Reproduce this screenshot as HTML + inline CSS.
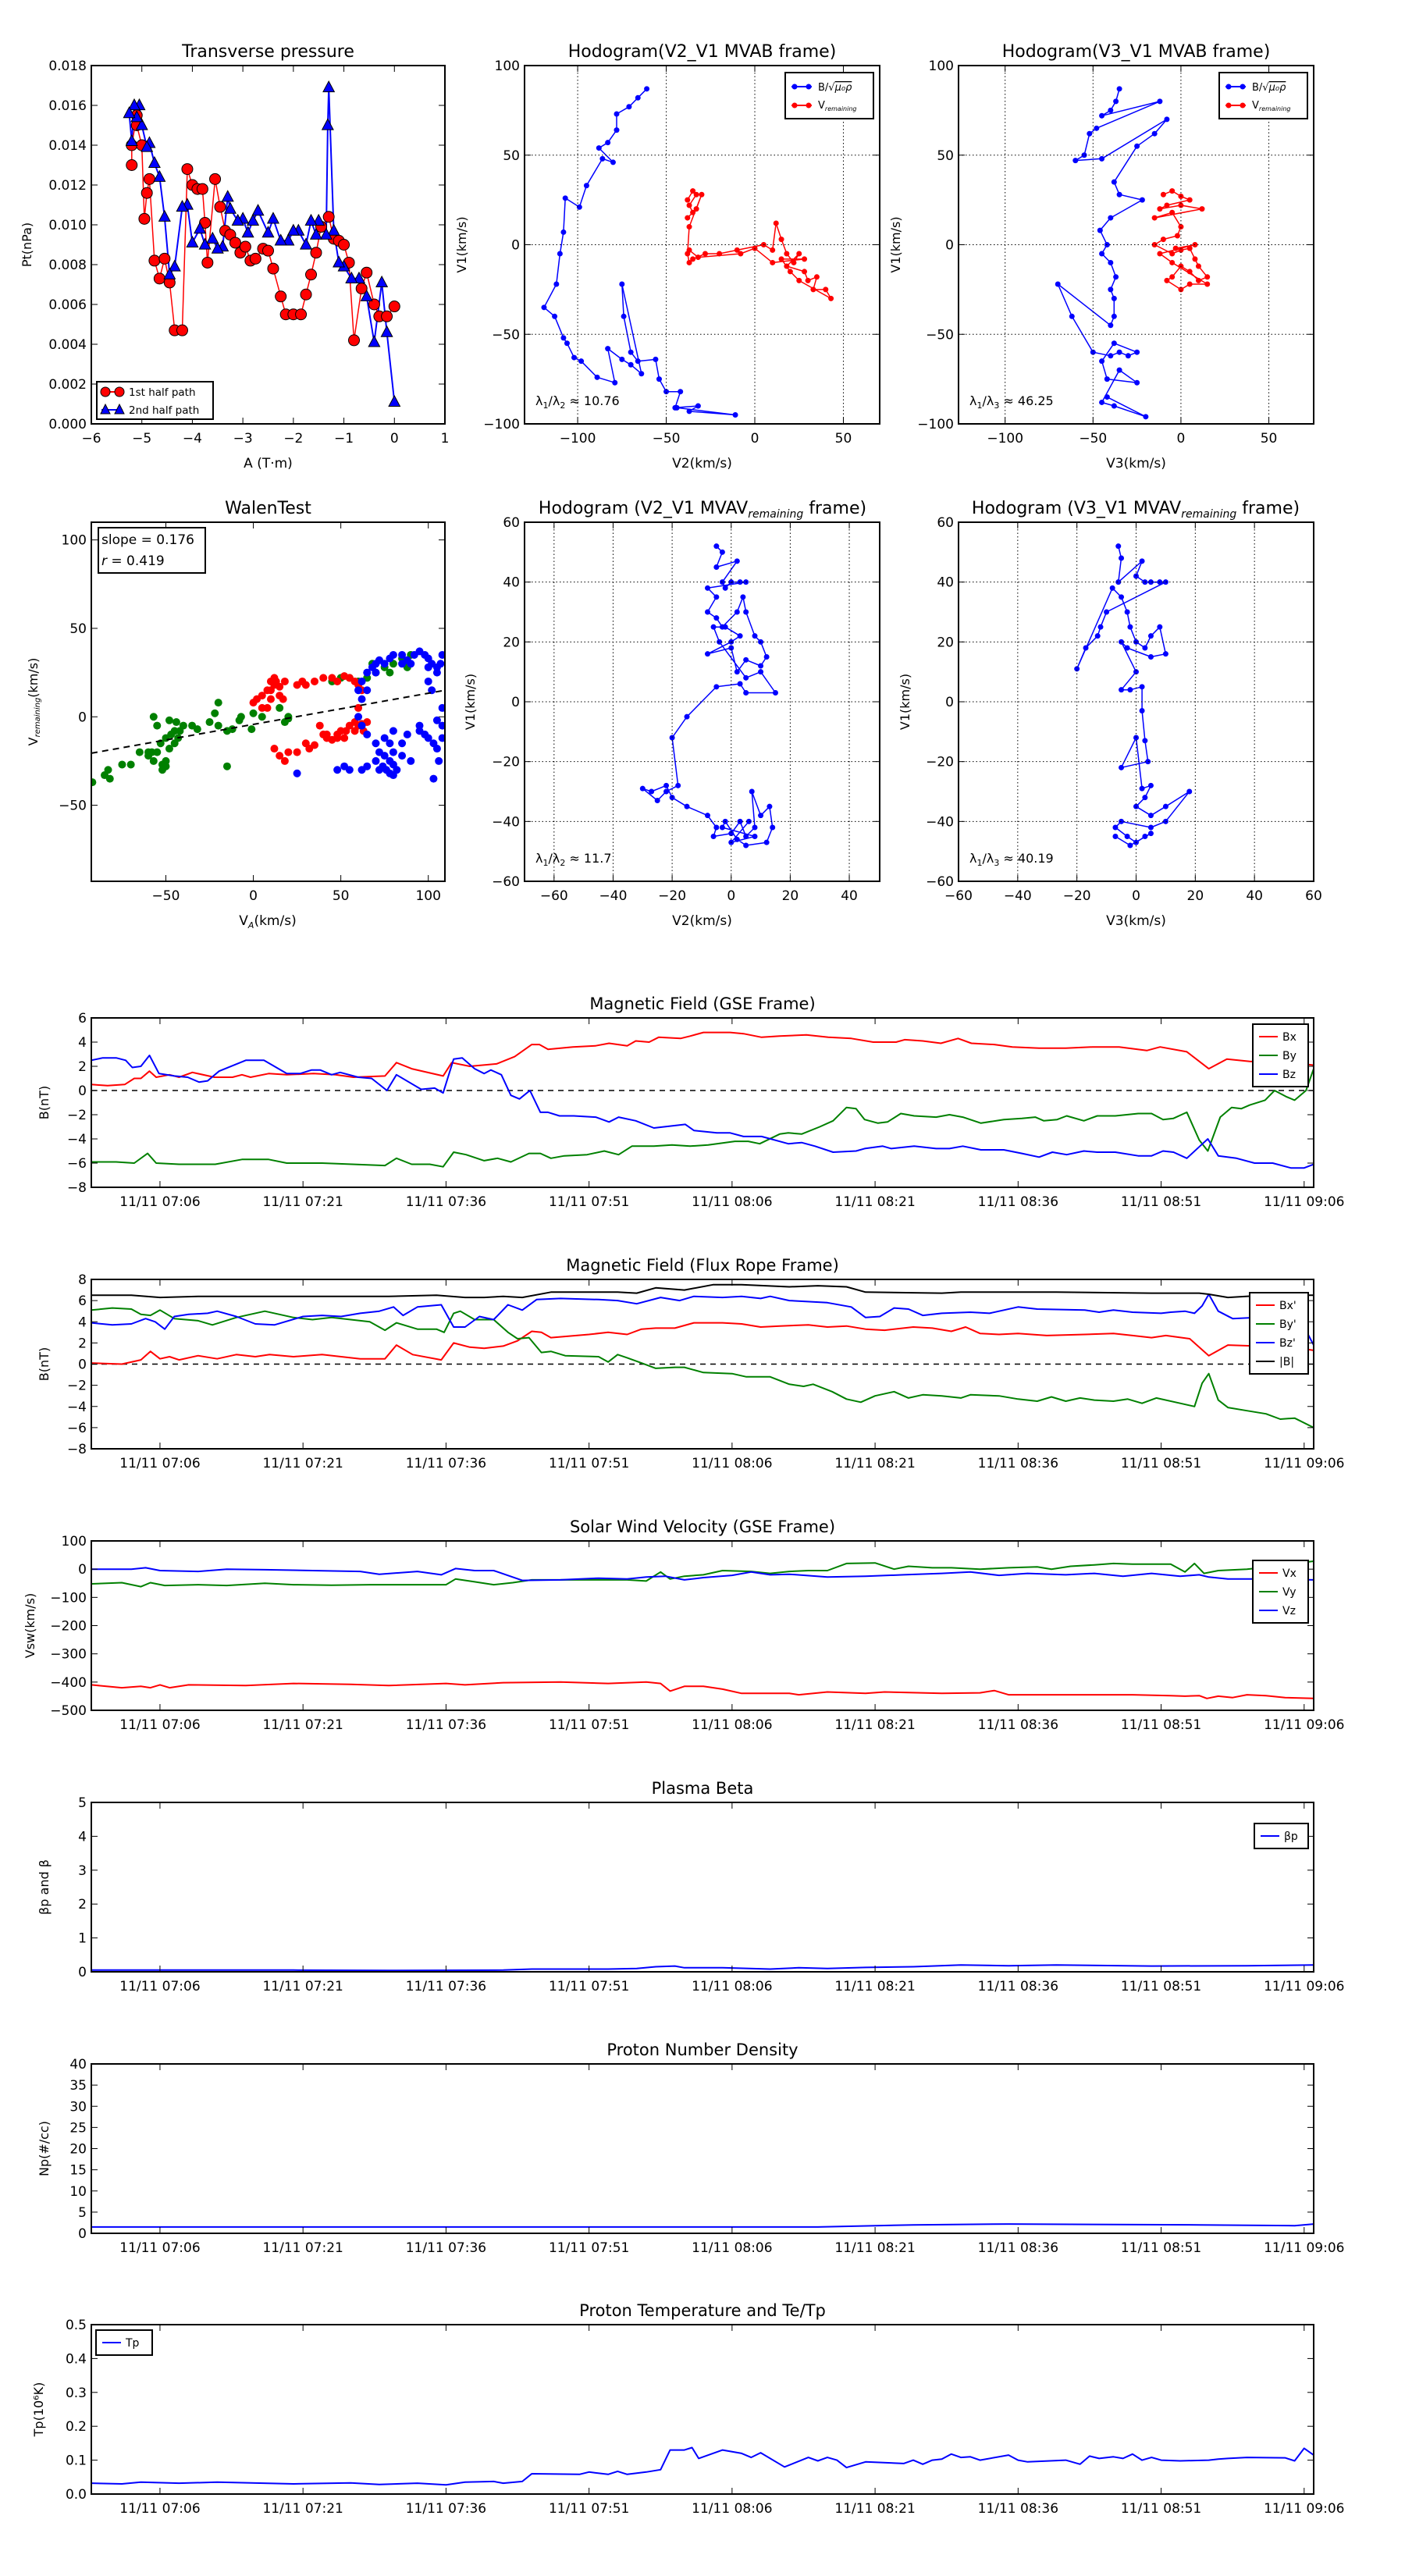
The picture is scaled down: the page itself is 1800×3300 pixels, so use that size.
<!DOCTYPE html>
<html><head><meta charset="utf-8"><style>
html,body{margin:0;padding:0;background:#fff;}
svg{display:block;font-family:"DejaVu Sans","Liberation Sans",sans-serif;}
</style></head><body>
<svg id="fig" width="1800" height="3300" viewBox="0 0 1800 3300" xmlns="http://www.w3.org/2000/svg">
<rect x="0" y="0" width="1800" height="3300" fill="#fff"/>
</svg>
<script>
// ===== DATA =====
// Transverse pressure
const tp1A=[-5.2,-5.2,-5.1,-5.1,-5.0,-4.95,-4.9,-4.85,-4.75,-4.65,-4.55,-4.45,-4.35,-4.2,-4.1,-4.0,-3.9,-3.8,-3.75,-3.7,-3.55,-3.45,-3.35,-3.25,-3.15,-3.05,-2.95,-2.85,-2.75,-2.6,-2.5,-2.4,-2.25,-2.15,-2.0,-1.85,-1.75,-1.65,-1.55,-1.45,-1.3,-1.2,-1.1,-1.0,-0.9,-0.8,-0.65,-0.55,-0.4,-0.3,-0.15,0];
const tp1P=[0.013,0.014,0.0155,0.015,0.014,0.0103,0.0116,0.0123,0.0082,0.0073,0.0083,0.0071,0.0047,0.0047,0.0128,0.012,0.0118,0.0118,0.0101,0.0081,0.0123,0.0109,0.0097,0.0095,0.0091,0.0086,0.0089,0.0082,0.0083,0.0088,0.0087,0.0078,0.0064,0.0055,0.0055,0.0055,0.0065,0.0075,0.0086,0.0099,0.0104,0.0093,0.0092,0.009,0.0081,0.0042,0.0068,0.0076,0.006,0.0054,0.0054,0.0059];
const tp2A=[0,-0.15,-0.25,-0.4,-0.55,-0.7,-0.85,-1.0,-1.1,-1.2,-1.3,-1.32,-1.35,-1.5,-1.55,-1.65,-1.75,-1.9,-2.0,-2.1,-2.25,-2.4,-2.5,-2.7,-2.8,-2.9,-3.0,-3.1,-3.25,-3.3,-3.4,-3.5,-3.6,-3.75,-3.85,-4.0,-4.1,-4.2,-4.35,-4.45,-4.55,-4.65,-4.75,-4.85,-4.9,-5.0,-5.05,-5.1,-5.15,-5.2,-5.25];
const tp2P=[0.0011,0.0046,0.0071,0.0041,0.0064,0.0073,0.0073,0.0079,0.0081,0.0097,0.0169,0.015,0.0095,0.0102,0.0095,0.0102,0.009,0.0097,0.0097,0.0092,0.0092,0.0103,0.0096,0.0107,0.0102,0.0096,0.0103,0.0102,0.0108,0.0114,0.0089,0.0088,0.0093,0.009,0.0098,0.0091,0.011,0.0109,0.0079,0.0075,0.0104,0.0124,0.0131,0.0141,0.0139,0.015,0.016,0.0154,0.016,0.0142,0.0156];
// Hodogram V2-V1 MVAB
const h1Bx=[-61,-66,-71,-78,-78,-83,-88,-80,-86,-95,-99,-107,-108,-110,-112,-119,-113,-108,-106,-102,-98,-89,-79,-83,-75,-70,-64,-75,-74,-70,-66,-56,-54,-50,-42,-45,-32,-37,-11,-44];
const h1By=[87,82,77,73,64,57,54,46,48,33,21,26,7,-5,-22,-35,-40,-52,-55,-63,-65,-74,-77,-58,-64,-67,-72,-22,-40,-60,-65,-64,-75,-82,-82,-91,-90,-93,-95,-91];
const h1Vx=[-38,-35,-33,-37,-35,-38,-33,-30,-37,-38,-37,-35,-28,-20,-10,5,10,12,15,18,22,25,18,28,30,35,33,40,43,25,20,15,28,10,0,-8,-32,-37];
const h1Vy=[25,30,28,22,18,15,20,28,10,-5,-10,-8,-5,-5,-3,0,-3,12,3,-5,-10,-5,-12,-15,-20,-18,-25,-25,-30,-20,-15,-8,-8,-10,-2,-5,-7,-3];
// Hodogram V3-V1 MVAB
const h2Bx=[-35,-37,-40,-45,-12,-48,-52,-55,-60,-45,-8,-15,-25,-38,-35,-22,-40,-46,-42,-45,-40,-37,-40,-38,-38,-40,-70,-62,-50,-40,-35,-30,-25,-38,-45,-42,-25,-35,-45,-38,-20,-42];
const h2By=[87,80,75,72,80,65,62,50,47,48,70,62,55,35,28,25,15,8,0,-5,-10,-18,-25,-30,-40,-45,-22,-40,-60,-62,-60,-62,-60,-55,-65,-75,-77,-70,-88,-90,-96,-85];
const h2Vx=[-10,-5,0,5,-8,-12,0,12,-15,-5,0,-2,-10,-15,-5,0,5,8,10,15,10,5,0,-5,-8,0,5,15,-5,-12,8,-3];
const h2Vy=[28,30,27,25,22,20,22,20,15,18,10,5,3,0,-5,-3,-2,-8,-12,-18,-20,-15,-12,-18,-20,-25,-22,-22,-10,-5,0,-2];
// Walen test
const wSlope=0.176, wIntercept=-4.3, wR=0.419;
const wGx=[-92,-85,-83,-82,-75,-70,-65,-60,-58,-55,-57,-52,-50,-52,-48,-47,-45,-42,-40,-44,-48,-55,-57,-50,-45,-43,-35,-32,-20,-22,-25,-20,-15,-12,-8,-7,-15,0,5,15,18,20,-50,-60,-53,45,50,55,80,85,90,75,70,65,60,68,88,78,20,-1];
const wGy=[-37,-33,-30,-35,-27,-27,-20,-22,-20,-20,-25,-27,-28,-30,-18,-10,-8,-8,-5,-3,-2,-5,0,-12,-15,-12,-5,-7,8,2,-3,-5,-8,-7,-2,0,-28,2,0,5,-3,-1,-25,-20,-15,20,22,22,30,33,35,28,25,22,20,30,28,25,0,-7];
const wRx=[0,2,5,8,10,12,13,15,18,10,8,25,28,30,35,40,45,48,52,55,58,60,62,60,30,32,35,25,20,18,15,12,40,42,45,48,50,52,55,58,60,62,65,63,58,53,48,42,38,10,12,5,15,17];
const wRy=[8,10,12,15,15,18,20,17,20,10,5,18,20,18,20,22,22,20,23,22,20,18,15,5,-15,-18,-16,-20,-20,-25,-22,-18,-10,-12,-13,-10,-8,-12,-5,-3,-5,-4,-3,-8,-8,-8,-12,-10,-5,20,22,5,12,10];
const wBx=[60,62,65,68,70,72,75,78,80,85,88,92,95,98,100,102,105,107,108,105,100,90,85,70,65,62,60,62,65,70,72,75,78,80,76,78,80,82,74,70,75,78,80,85,88,95,98,100,103,105,108,108,105,103,55,62,52,48,65,72,25,80,85,90,95,108,106,100,102];
const wBy=[15,20,25,28,30,32,30,33,35,35,32,35,37,35,33,30,28,30,35,25,28,30,30,25,15,10,0,-5,-10,-15,-20,-22,-25,-27,-30,-32,-33,-30,-28,-25,-12,-15,-20,-15,-10,-5,-10,-12,-15,-18,-5,5,-2,-35,-30,-30,-28,-30,-28,-30,-32,-8,-22,-25,-8,-12,-25,20,15];
// Hodogram MVAV
const h3x=[-5,-3,-5,2,-3,-2,0,3,5,-8,-5,-8,-5,-3,2,4,5,8,10,12,10,5,2,0,-8,0,3,-2,-6,-4,5,10,15,5,3,-5,-15,-20,-18,-22,-25,-30,-27,-22,-20,-15,-8,-5,-6,0,3,5,8,7,10,13,14,12,5,2,-2,-3,8,0,6];
const h3y=[52,50,45,47,40,38,40,40,40,38,35,30,28,25,30,35,30,22,20,15,12,14,10,18,16,20,22,25,25,20,8,10,3,3,6,5,-5,-12,-28,-30,-33,-29,-30,-28,-32,-35,-38,-42,-45,-44,-40,-45,-42,-30,-38,-35,-42,-47,-48,-46,-40,-42,-45,-47,-40];
const h4x=[-6,-5,-6,2,0,3,5,8,10,-10,-12,-13,-17,-20,-8,-5,-3,-2,0,3,5,8,10,5,-3,-5,0,-5,-2,2,2,3,4,-5,0,2,5,3,0,5,10,18,10,5,-5,-7,-3,0,3,5,-2,-7];
const h4y=[52,48,40,47,42,40,40,40,40,30,25,22,18,11,38,35,30,25,20,18,22,25,16,15,18,20,10,4,4,5,-3,-13,-20,-22,-12,-29,-28,-32,-35,-38,-35,-30,-40,-42,-40,-42,-45,-47,-45,-44,-48,-45];
// Time series (minutes after 07:00)
const timeTicks=[6,21,36,51,66,81,96,111,126];
const timeTickLabels=["11/11 07:06","11/11 07:21","11/11 07:36","11/11 07:51","11/11 08:06","11/11 08:21","11/11 08:36","11/11 08:51","11/11 09:06"];
const gseBxT=[-1.2,0.5,2.3,3.3,4,4.9,5.6,7,8,9.4,11.7,13.6,14.6,15.5,17.4,19.3,22.1,24.4,26.3,29.6,30.8,32.4,35.7,36.6,38.5,41.3,43.2,45,45.8,46.7,49.3,51.7,53.1,55,55.9,57.3,58.3,60.6,61.6,63,65.8,67.2,69.1,71,73.8,76.1,78.5,80.8,83.2,84.1,86,87.9,89.7,91.1,93.5,95.4,98.2,101,103.8,106.6,109.5,110.9,113.7,116,117.9,120.3,124.5,127];
const gseBxV=[0.5,0.4,0.5,1.0,1.0,1.6,1.1,1.3,1.1,1.5,1.1,1.1,1.3,1.1,1.4,1.3,1.4,1.3,1.1,1.2,2.3,1.8,1.2,2.3,2.0,2.2,2.8,3.8,3.8,3.4,3.6,3.7,3.9,3.7,4.1,4.0,4.4,4.3,4.5,4.8,4.8,4.7,4.4,4.5,4.6,4.4,4.3,4.0,4.0,4.2,4.1,3.9,4.3,3.9,3.8,3.6,3.5,3.5,3.6,3.6,3.3,3.6,3.2,1.8,2.6,2.4,2.3,2.1];
const gseByT=[-1.2,1.4,3.3,4.7,5.6,8.0,11.8,14.6,17.4,19.3,23.0,29.6,30.8,32.4,34.3,35.7,36.8,38.1,40.0,41.4,42.8,44.7,45.9,47.0,48.4,50.8,52.6,54.1,55.5,57.8,59.7,61.6,63.5,66.3,67.7,68.9,71.0,71.9,73.3,75.2,76.6,78.0,79.0,79.9,81.3,82.3,83.7,85.1,87.4,88.8,90.2,92.1,94.5,96.4,97.8,98.7,100.1,101.1,102.9,104.3,106.2,108.6,110.0,111.2,112.3,113.7,115.0,115.9,117.2,118.4,119.4,120.3,121.9,122.9,124.1,125.0,126.2,127.0];
const gseByV=[-5.9,-5.9,-6.0,-5.2,-6.0,-6.1,-6.1,-5.7,-5.7,-6.0,-6.0,-6.2,-5.6,-6.1,-6.1,-6.3,-5.1,-5.3,-5.8,-5.6,-5.9,-5.2,-5.2,-5.6,-5.4,-5.3,-5.0,-5.3,-4.6,-4.6,-4.5,-4.6,-4.5,-4.2,-4.2,-4.4,-3.6,-3.5,-3.6,-3.0,-2.5,-1.4,-1.5,-2.4,-2.7,-2.6,-1.9,-2.1,-2.2,-2.0,-2.2,-2.7,-2.4,-2.3,-2.2,-2.5,-2.4,-2.1,-2.5,-2.1,-2.1,-1.9,-1.9,-2.4,-2.3,-1.8,-4.1,-5.0,-2.2,-1.4,-1.5,-1.2,-0.8,0.0,-0.5,-0.8,0.0,1.8];
const gseBzT=[-1.2,0,1.4,2.4,3.1,4.0,4.9,5.9,7.5,8.9,10.1,11.0,12.2,15.0,16.9,19.3,20.7,21.9,22.8,24.0,24.9,26.8,28.2,29.8,30.8,33.4,34.8,35.7,36.8,37.7,39.0,40.0,40.7,41.8,42.8,43.7,44.8,45.9,46.7,47.9,49.4,51.7,53.1,54.1,55.9,57.8,61.1,62.0,64.4,65.8,67.2,69.1,71.9,73.3,74.7,76.6,79.0,79.9,81.8,82.7,85.1,87.4,88.8,90.2,92.1,94.5,96.4,98.2,99.6,101.1,102.9,104.3,106.2,108.6,110.0,111.2,112.3,113.7,115.2,115.9,117.0,118.9,120.8,122.7,124.6,126.0,127.0];
const gseBzV=[2.5,2.7,2.7,2.5,1.9,2.0,2.9,1.4,1.2,1.1,0.7,0.8,1.6,2.5,2.5,1.4,1.4,1.7,1.7,1.3,1.5,1.1,1.0,0.0,1.3,0.1,0.2,-0.2,2.6,2.7,1.8,1.4,1.7,1.3,-0.4,-0.7,0.0,-1.8,-1.8,-2.1,-2.1,-2.2,-2.6,-2.2,-2.5,-3.1,-2.8,-3.3,-3.5,-3.5,-3.8,-3.8,-4.4,-4.3,-4.6,-5.1,-5.0,-4.8,-4.6,-4.8,-4.6,-4.8,-4.8,-4.6,-4.9,-4.9,-5.2,-5.5,-5.1,-5.3,-5.0,-5.1,-5.1,-5.4,-5.4,-5.0,-5.1,-5.6,-4.5,-4.0,-5.4,-5.6,-6.0,-6.0,-6.4,-6.4,-6.1];
const frBmT=[-1.2,3,6,10,20,30,35,38,40,42,44,47,54,56,58,61,64,67,72,75,78,80,88,90,100,110,115,116,118,122,127];
const frBmV=[6.5,6.5,6.3,6.4,6.4,6.4,6.5,6.3,6.3,6.4,6.3,6.8,6.8,6.7,7.2,7.0,7.5,7.5,7.3,7.4,7.3,6.8,6.7,6.8,6.8,6.7,6.7,6.6,6.3,6.5,6.5];
const frBxT=[-1.2,2,4,5,6,7,8,10,12,14,16,17.5,20,23,25,27,29.6,30.8,32.5,35.5,36.8,38.5,40,42,43.5,45,46,47,51,53,55,56.5,58,60,62,65,67,69,71,74,76,78,80,82,85,87,89,90.5,92,94,96,99,103,106,108,110,111.5,114,116,118,121,124,127];
const frBxV=[0.1,0,0.4,1.2,0.5,0.7,0.4,0.8,0.5,0.9,0.7,0.9,0.7,0.9,0.7,0.5,0.5,1.8,0.9,0.4,2.0,1.6,1.5,1.7,2.2,3.1,3.0,2.5,2.8,3.0,2.8,3.3,3.4,3.4,3.9,3.9,3.8,3.5,3.6,3.7,3.5,3.6,3.3,3.2,3.5,3.4,3.1,3.5,2.9,2.8,2.9,2.7,2.8,2.9,2.7,2.5,2.7,2.4,0.8,1.8,1.7,1.7,1.3];
const frByT=[-1.2,1,3,4,5,6,7.5,10,11.5,14,17,20,22,24,26,28,29.6,30.8,33,35,35.8,36.8,37.5,39,41,42.5,43.5,44.7,46,47,48.5,52,53,54,55,56.5,58,60,61,63,66,67.5,70,72,73.5,74.5,76.5,78,79.5,81,83,84.5,86,88,90,91,94,96,98,99.5,101,102.5,104,106,107.5,109,110.5,113,114.5,115.3,116,117,118,120,122,123.5,125,127];
const frByV=[5.1,5.3,5.2,4.7,4.6,5.1,4.3,4.1,3.7,4.4,5.0,4.4,4.2,4.4,4.2,4.0,3.2,3.9,3.3,3.3,3.0,4.8,5.0,4.2,4.2,3.0,2.4,2.5,1.1,1.2,0.8,0.7,0.2,0.9,0.6,0.1,-0.4,-0.3,-0.3,-0.8,-0.9,-1.2,-1.2,-1.9,-2.1,-1.9,-2.6,-3.3,-3.6,-3.0,-2.6,-3.2,-2.9,-3.0,-3.2,-2.9,-3.0,-3.3,-3.5,-3.1,-3.5,-3.2,-3.4,-3.5,-3.3,-3.7,-3.2,-3.7,-4.0,-1.8,-0.9,-3.4,-4.1,-4.4,-4.7,-5.2,-5.1,-6.0];
const frBzT=[-1.2,1,3,4.5,5.5,6.5,7.5,9,11,12,14,16,18,21,23,25,27,29,30.5,31.5,33,35.5,36.8,38,39.5,41,42.5,44,45.5,48,52,54,56,58.5,60.5,62,65,67,69,70,72,76,78.5,80,81.5,83,84.5,86,88,91,93,96,98,103,104.5,106,108,111,112,113.5,114.5,115.3,116,117,118.5,121,123,124.5,126,127];
const frBzV=[3.9,3.7,3.8,4.3,4.0,3.3,4.5,4.7,4.8,5.0,4.5,3.8,3.7,4.5,4.6,4.5,4.8,5.0,5.4,4.6,5.4,5.6,3.5,3.5,4.5,4.2,5.6,5.1,6.1,6.2,6.1,6.0,5.7,6.3,6.0,6.4,6.3,6.4,6.2,6.4,6.0,5.8,5.4,4.4,4.5,5.3,5.2,4.6,4.8,4.9,4.8,5.4,5.2,5.1,4.9,5.1,4.9,4.8,4.9,5.0,4.8,5.5,6.6,5.0,4.3,4.4,4.1,4.5,3.5,1.8];
const vxT=[-1.2,2,4,5,6,7,9,15,20,26,30,36,38,42,48,53,57,58.5,59.5,61,63,65,67,72,73,76,80,82,88,92,93.5,95,100,108,112,113.5,115,115.8,117,118.5,120,122,124,127];
const vxV=[-410,-420,-415,-420,-410,-420,-410,-412,-405,-408,-412,-405,-410,-402,-400,-405,-400,-405,-432,-415,-415,-425,-440,-440,-445,-435,-440,-435,-440,-438,-430,-445,-445,-445,-448,-450,-448,-458,-450,-455,-445,-448,-455,-458];
const vyT=[-1.2,2,4,5,6.5,10,13,17,20,24,28,36,37,39,41,43,45,50,55,57,58.5,59.5,61,63,65,68,70,72,74,76,78,81,83,84.5,87,89,92,95,98,99.5,101.5,104,106,108,112,113.5,114.5,115.5,117,120,123,125,127];
const vyV=[-52,-48,-62,-48,-58,-55,-58,-50,-55,-57,-55,-55,-35,-45,-55,-48,-38,-38,-38,-42,-10,-35,-25,-20,-5,-8,-15,-8,-5,-5,20,22,0,10,5,5,0,5,8,0,10,15,20,18,18,-10,20,-15,-5,0,10,20,28];
const vzT=[-1.2,3,4.5,6,10,13,17,22,27,29,33,35.5,37,39,41,44,48,52,55,57,59,61,63,66,68,70,72,76,80,84,88,91,94,97,101,104,107,110,113,115,116,118,122,127];
const vzV=[0,0,5,-5,-8,0,-2,-5,-8,-18,-8,-20,2,-5,-5,-40,-38,-32,-35,-28,-25,-38,-30,-22,-10,-20,-18,-28,-25,-20,-15,-10,-22,-15,-20,-15,-25,-15,-25,-20,-28,-35,-35,-38];
const betaT=[-1.2,10,20,30,42,45,53,56,58,60,61,65,70,73,76,80,85,90,95,100,110,120,127];
const betaV=[0.05,0.05,0.05,0.04,0.05,0.08,0.08,0.1,0.15,0.17,0.12,0.12,0.08,0.12,0.1,0.13,0.15,0.2,0.18,0.2,0.17,0.18,0.2];
const npT=[-1.2,20,40,60,75,85,95,115,125,127];
const npV=[1.5,1.5,1.5,1.5,1.5,2.0,2.2,2.0,1.8,2.2];
const tpT=[-1.2,2,4,8,12,20,26,29,33,36,38,41,42,44,45,50,51,53,54,55,57,58.5,59.5,61,61.8,62.5,65,67,68,69,71.5,74,75,76,77,78,80,84,85,86,87,88,89,90,91,92,95,96,97,101,102.5,103.5,104.5,106,107,108,109,110,111,113,116,117,118,120,124,125,126,127];
const tpV=[0.032,0.03,0.035,0.032,0.035,0.03,0.033,0.028,0.032,0.027,0.035,0.037,0.032,0.037,0.06,0.058,0.065,0.058,0.067,0.058,0.065,0.072,0.13,0.13,0.137,0.105,0.13,0.12,0.108,0.122,0.08,0.108,0.098,0.108,0.1,0.078,0.095,0.09,0.1,0.088,0.1,0.103,0.118,0.108,0.11,0.1,0.115,0.1,0.095,0.1,0.088,0.112,0.105,0.11,0.105,0.118,0.1,0.108,0.1,0.098,0.1,0.103,0.105,0.108,0.107,0.098,0.135,0.115];

// ===== DRAWING =====
const NS='http://www.w3.org/2000/svg';
const svg=document.getElementById('fig');
let clipId=0;
function mk(tag,attrs,parent,nm){
  const e=document.createElementNS(NS,tag);
  for(const k in attrs)e.setAttribute(k,attrs[k]);
  
  
  (parent||svg).appendChild(e);
  return e;
}
function txt(s,x,y,size,anchor,parent,nm,extra){
  const a={x:x,y:y,'font-size':size,'text-anchor':anchor||'middle',fill:'#000'};
  if(extra)for(const k in extra)a[k]=extra[k];
  const t=mk('text',a,parent,nm);
  t.textContent=s;return t;
}
function axes(o){
  const g=mk('g',{},svg,o.name);
  const sx=v=>o.x0+(v-o.xmin)/(o.xmax-o.xmin)*(o.x1-o.x0);
  const sy=v=>o.y1-(v-o.ymin)/(o.ymax-o.ymin)*(o.y1-o.y0);
  const cid='clip'+(clipId++);
  const cp=mk('clipPath',{id:cid},g,'clip');
  mk('rect',{x:o.x0,y:o.y0,width:o.x1-o.x0,height:o.y1-o.y0},cp,'clip-rect');
  const plot=mk('g',{'clip-path':'url(#'+cid+')'},g,o.name+'-plot');
  const fs=o.fs||17;
  if(o.grid){
    o.xticks.forEach(v=>mk('line',{x1:sx(v),x2:sx(v),y1:o.y0,y2:o.y1,stroke:'#000','stroke-width':1,'stroke-dasharray':'1.5,3'},g,'x-grid-line'));
    o.yticks.forEach(v=>mk('line',{y1:sy(v),y2:sy(v),x1:o.x0,x2:o.x1,stroke:'#000','stroke-width':1,'stroke-dasharray':'1.5,3'},g,'y-grid-line'));
  }
  o.xticks.forEach((v,i)=>{
    const x=sx(v);
    mk('line',{x1:x,x2:x,y1:o.y1,y2:o.y1-8,stroke:'#000','stroke-width':1},g,'x-tick');
    mk('line',{x1:x,x2:x,y1:o.y0,y2:o.y0+8,stroke:'#000','stroke-width':1},g,'x-tick-top');
    txt(o.xlabels[i],x,o.y1+24,fs,'middle',g,'x-tick-label');
  });
  o.yticks.forEach((v,i)=>{
    const y=sy(v);
    mk('line',{x1:o.x0,x2:o.x0+8,y1:y,y2:y,stroke:'#000','stroke-width':1},g,'y-tick');
    mk('line',{x1:o.x1,x2:o.x1-8,y1:y,y2:y,stroke:'#000','stroke-width':1},g,'y-tick-right');
    txt(o.ylabels[i],o.x0-6,y+6,fs,'end',g,'y-tick-label');
  });
  if(o.title)txt(o.title,(o.x0+o.x1)/2,o.y0-11,o.tfs||22,'middle',g,'chart-title');
  if(o.xtitle)txt(o.xtitle,(o.x0+o.x1)/2,o.y1+56,17,'middle',g,'x-axis-title');
  if(o.ytitle){const yc=(o.y0+o.y1)/2;txt(o.ytitle,o.ytx,yc,16,'middle',g,'y-axis-title',{transform:'rotate(-90 '+o.ytx+' '+yc+')'});}
  return {g,sx,sy,plot,o,finish(){mk('rect',{x:o.x0,y:o.y0,width:o.x1-o.x0,height:o.y1-o.y0,fill:'none',stroke:'#000','stroke-width':2},g,'axes-frame');}};
}
function line(ax,xs,ys,color,w,nm,dash){
  const d=xs.map((x,i)=>(i?'L':'M')+ax.sx(x).toFixed(1)+','+ax.sy(ys[i]).toFixed(1)).join('');
  const a={d:d,fill:'none',stroke:color,'stroke-width':w,'stroke-linejoin':'round'};
  if(dash)a['stroke-dasharray']=dash;
  return mk('path',a,ax.plot,nm);
}
function dots(ax,xs,ys,color,r,nm,stroke){
  xs.forEach((x,i)=>mk('circle',{cx:ax.sx(x),cy:ax.sy(ys[i]),r:r,fill:color,stroke:stroke||'none','stroke-width':1},ax.plot,nm));
}
function tris(ax,xs,ys,color,s,nm){
  xs.forEach((x,i)=>{const cx=ax.sx(x),cy=ax.sy(ys[i]);
    mk('polygon',{points:`${cx},${cy-s} ${cx-s*0.9},${cy+s*0.7} ${cx+s*0.9},${cy+s*0.7}`,fill:color,stroke:'#000','stroke-width':1},ax.plot,nm);});
}
function range(a,b,s){const r=[];for(let v=a;v<=b+1e-9;v+=s)r.push(Math.round(v*1e6)/1e6);return r;}
function legendBox(x,y,w,h,nm){const g=mk('g',{},svg,nm);mk('rect',{x:x,y:y,width:w,height:h,fill:'#fff',stroke:'#000','stroke-width':2},g,'legend-frame');return g;}

// --- Transverse pressure ---
(function(){
  const ax=axes({name:'transverse-pressure-chart',x0:117,x1:570,y0:84,y1:543,xmin:-6,xmax:1,ymin:0,ymax:0.018,
    xticks:range(-6,1,1),xlabels:['−6','−5','−4','−3','−2','−1','0','1'],
    yticks:range(0,0.018,0.002),ylabels:['0.000','0.002','0.004','0.006','0.008','0.010','0.012','0.014','0.016','0.018'],
    title:'Transverse pressure',xtitle:'A (T·m)',ytitle:'Pt(nPa)',ytx:40});
  line(ax,tp1A,tp1P,'#f00',1.5,'first-half-line');
  line(ax,tp2A,tp2P,'#00f',2,'second-half-line');
  dots(ax,tp1A,tp1P,'#f00',7,'first-half-marker','#000');
  tris(ax,tp2A,tp2P,'#00f',8,'second-half-marker');
  ax.finish();
  const lg=legendBox(124,489,149,48,'transverse-legend');
  mk('line',{x1:130,x2:157,y1:502,y2:502,stroke:'#f00','stroke-width':2},lg,'legend-line');
  mk('circle',{cx:135,cy:502,r:6,fill:'#f00',stroke:'#000'},lg,'legend-marker');mk('circle',{cx:153,cy:502,r:6,fill:'#f00',stroke:'#000'},lg,'legend-marker');
  txt('1st half path',165,507,13.5,'start',lg,'legend-entry');
  mk('line',{x1:130,x2:157,y1:525,y2:525,stroke:'#00f','stroke-width':2},lg,'legend-line');
  mk('polygon',{points:'135,518 129,530 141,530',fill:'#00f',stroke:'#000'},lg,'legend-marker');mk('polygon',{points:'153,518 147,530 159,530',fill:'#00f',stroke:'#000'},lg,'legend-marker');
  txt('2nd half path',165,530,13.5,'start',lg,'legend-entry');
})();

function hodoLegend(x,nm){
  const lg=legendBox(x,93,113,59,nm);
  mk('line',{x1:x+8,x2:x+34,y1:111,y2:111,stroke:'#00f','stroke-width':2},lg,'legend-line');
  mk('circle',{cx:x+12,cy:111,r:3.5,fill:'#00f'},lg,'legend-marker');mk('circle',{cx:x+30,cy:111,r:3.5,fill:'#00f'},lg,'legend-marker');
  const t1=txt('B/√',x+42,116,13,'start',lg,'legend-entry');
  const ts=mk('tspan',{'font-style':'italic','text-decoration':'overline'},t1,'legend-sub');ts.textContent='μ₀ρ';
  mk('line',{x1:x+8,x2:x+34,y1:135,y2:135,stroke:'#f00','stroke-width':2},lg,'legend-line');
  mk('circle',{cx:x+12,cy:135,r:3.5,fill:'#f00'},lg,'legend-marker');mk('circle',{cx:x+30,cy:135,r:3.5,fill:'#f00'},lg,'legend-marker');
  const t2=txt('V',x+42,139,13,'start',lg,'legend-entry');
  const s2=mk('tspan',{'font-size':8,'font-style':'italic',dy:3},t2,'legend-sub');s2.textContent='remaining';
}
function hodo(cfg){
  const ax=axes(cfg);
  line(ax,cfg.bx,cfg.by,'#00f',1.5,'b-path');
  dots(ax,cfg.bx,cfg.by,'#00f',3.5,'b-point');
  if(cfg.vx){line(ax,cfg.vx,cfg.vy,'#f00',1.5,'v-path');dots(ax,cfg.vx,cfg.vy,'#f00',3.5,'v-point');}
  ax.finish();
  const t=txt('λ',cfg.x0+14,cfg.y1-24,16,'start',ax.g,'eigen-ratio-label');
  const a=mk('tspan',{'font-size':11,dy:4},t,'sub');a.textContent='1';
  const b=mk('tspan',{dy:-4},t,'sub');b.textContent='/λ';
  const c=mk('tspan',{'font-size':11,dy:4},t,'sub');c.textContent=cfg.sub;
  const d=mk('tspan',{dy:-4},t,'sub');d.textContent=' ≈ '+cfg.ratio;
  return ax;
}
hodo({name:'hodogram-v2-v1-mvab',x0:672,x1:1127,y0:84,y1:543,xmin:-130,xmax:70.5,ymin:-100,ymax:100,grid:true,
  xticks:[-100,-50,0,50],xlabels:['−100','−50','0','50'],yticks:[-100,-50,0,50,100],ylabels:['−100','−50','0','50','100'],
  title:'Hodogram(V2_V1 MVAB frame)',xtitle:'V2(km/s)',ytitle:'V1(km/s)',ytx:597,bx:h1Bx,by:h1By,vx:h1Vx,vy:h1Vy,sub:'2',ratio:'10.76'});
hodoLegend(1006,'hodogram1-legend');
hodo({name:'hodogram-v3-v1-mvab',x0:1228,x1:1683,y0:84,y1:543,xmin:-126.5,xmax:75.5,ymin:-100,ymax:100,grid:true,
  xticks:[-100,-50,0,50],xlabels:['−100','−50','0','50'],yticks:[-100,-50,0,50,100],ylabels:['−100','−50','0','50','100'],
  title:'Hodogram(V3_V1 MVAB frame)',xtitle:'V3(km/s)',ytitle:'V1(km/s)',ytx:1153,bx:h2Bx,by:h2By,vx:h2Vx,vy:h2Vy,sub:'3',ratio:'46.25'});
hodoLegend(1562,'hodogram2-legend');

// Walen
(function(){
  const ax=axes({name:'walen-test-chart',x0:117,x1:570,y0:669,y1:1129,xmin:-92.6,xmax:109.5,ymin:-93,ymax:110,
    xticks:[-50,0,50,100],xlabels:['−50','0','50','100'],yticks:[-50,0,50,100],ylabels:['−50','0','50','100'],
    title:'WalenTest',ytx:48});
  dots(ax,wGx,wGy,'#008000',5,'walen-green-point');
  dots(ax,wRx,wRy,'#f00',5,'walen-red-point');
  dots(ax,wBx,wBy,'#00f',5,'walen-blue-point');
  const fx=[ax.o.xmin,ax.o.xmax];
  line(ax,fx,fx.map(x=>wSlope*x+wIntercept),'#000',2,'fit-line','8,6');
  ax.finish();
  const yc=899, t=txt('V',48,yc,16,'middle',ax.g,'y-axis-title',{transform:'rotate(-90 48 '+yc+')'});
  const s=mk('tspan',{'font-size':10,'font-style':'italic',dy:3},t,'sub');s.textContent='remaining';
  const s2=mk('tspan',{dy:-3},t,'sub');s2.textContent='(km/s)';
  const xt=txt('V',343,1185,17,'middle',ax.g,'x-axis-title');
  const xs=mk('tspan',{'font-size':11,'font-style':'italic',dy:4},xt,'sub');xs.textContent='A';
  const xs2=mk('tspan',{dy:-4},xt,'sub');xs2.textContent='(km/s)';
  const lg=legendBox(126,676,137,58,'walen-stats-box');
  txt('slope = '+wSlope,130,697,17,'start',lg,'slope-label');
  const rt=txt('',130,724,17,'start',lg,'r-label');
  const ri=mk('tspan',{'font-style':'italic'},rt,'r-symbol');ri.textContent='r';
  const rv=mk('tspan',{},rt,'r-value');rv.textContent=' = '+wR;
})();
hodo({name:'hodogram-v2-v1-mvav',x0:672,x1:1127,y0:669,y1:1129,xmin:-70,xmax:50.3,ymin:-60,ymax:60,grid:true,
  xticks:[-60,-40,-20,0,20,40],xlabels:['−60','−40','−20','0','20','40'],yticks:[-60,-40,-20,0,20,40,60],ylabels:['−60','−40','−20','0','20','40','60'],
  title:'',xtitle:'V2(km/s)',ytitle:'V1(km/s)',ytx:608,bx:h3x,by:h3y,sub:'2',ratio:'11.7'});
hodo({name:'hodogram-v3-v1-mvav',x0:1228,x1:1683,y0:669,y1:1129,xmin:-60,xmax:60,ymin:-60,ymax:60,grid:true,
  xticks:[-60,-40,-20,0,20,40,60],xlabels:['−60','−40','−20','0','20','40','60'],yticks:[-60,-40,-20,0,20,40,60],ylabels:['−60','−40','−20','0','20','40','60'],
  title:'',xtitle:'V3(km/s)',ytitle:'V1(km/s)',ytx:1165,bx:h4x,by:h4y,sub:'3',ratio:'40.19'});
[[900,'V2'],[1455,'V3']].forEach(([cx,v])=>{
  const t=txt('Hodogram ('+v+'_V1 MVAV',cx,658,22,'middle',svg,'chart-title');
  const s=mk('tspan',{'font-size':14,'font-style':'italic',dy:5},t,'sub');s.textContent='remaining';
  const s2=mk('tspan',{dy:-5},t,'sub');s2.textContent=' frame)';
});

// Time series
const tsTops=[1304,1639,1974,2309,2644,2978];
function ts(i,cfg){
  const y0=tsTops[i];
  const ax=axes(Object.assign({x0:117,x1:1683,y0:y0,y1:y0+217,xmin:-1.2,xmax:127,xticks:timeTicks,xlabels:timeTickLabels,ytx:62,tfs:21},cfg));
  return ax;
}
function tsLegend(x,y,w,entries,nm){
  const lg=legendBox(x,y,w,entries.length*24+8,nm);
  entries.forEach((e,k)=>{const yy=y+16+k*24;
    mk('line',{x1:x+8,x2:x+32,y1:yy,y2:yy,stroke:e[1],'stroke-width':2},lg,'legend-line');
    txt(e[0],x+38,yy+5,14,'start',lg,'legend-entry');});
}
(function(){
  const ax=ts(0,{name:'magnetic-field-gse-chart',ymin:-8,ymax:6,yticks:range(-8,6,2),ylabels:['−8','−6','−4','−2','0','2','4','6'],title:'Magnetic Field (GSE Frame)',ytitle:'B(nT)'});
  line(ax,[-1.2,127],[0,0],'#000',1.5,'zero-line','7,6');
  line(ax,gseBxT,gseBxV,'#f00',2,'bx-line');line(ax,gseByT,gseByV,'#008000',2,'by-line');line(ax,gseBzT,gseBzV,'#00f',2,'bz-line');
  ax.finish();tsLegend(1605,1312,71,[['Bx','#f00'],['By','#008000'],['Bz','#00f']],'gse-legend');
})();
(function(){
  const ax=ts(1,{name:'magnetic-field-flux-rope-chart',ymin:-8,ymax:8,yticks:range(-8,8,2),ylabels:['−8','−6','−4','−2','0','2','4','6','8'],title:'Magnetic Field (Flux Rope Frame)',ytitle:'B(nT)'});
  line(ax,[-1.2,127],[0,0],'#000',1.5,'zero-line','7,6');
  line(ax,frBxT,frBxV,'#f00',2,'bx-prime-line');line(ax,frByT,frByV,'#008000',2,'by-prime-line');line(ax,frBzT,frBzV,'#00f',2,'bz-prime-line');line(ax,frBmT,frBmV,'#000',2,'b-magnitude-line');
  ax.finish();tsLegend(1601,1656,75,[["Bx'",'#f00'],["By'",'#008000'],["Bz'",'#00f'],['|B|','#000']],'flux-rope-legend');
})();
(function(){
  const ax=ts(2,{name:'solar-wind-velocity-chart',ymin:-500,ymax:100,yticks:range(-500,100,100),ylabels:['−500','−400','−300','−200','−100','0','100'],title:'Solar Wind Velocity (GSE Frame)',ytitle:'Vsw(km/s)',ytx:44});
  line(ax,vxT,vxV,'#f00',2,'vx-line');line(ax,vyT,vyV,'#008000',2,'vy-line');line(ax,vzT,vzV,'#00f',2,'vz-line');
  ax.finish();tsLegend(1605,1999,71,[['Vx','#f00'],['Vy','#008000'],['Vz','#00f']],'velocity-legend');
})();
(function(){
  const ax=ts(3,{name:'plasma-beta-chart',ymin:0,ymax:5,yticks:range(0,5,1),ylabels:['0','1','2','3','4','5'],title:'Plasma Beta',ytitle:'βp and β'});
  line(ax,betaT,betaV,'#00f',2,'beta-line');
  ax.finish();tsLegend(1607,2336,69,[['βp','#00f']],'beta-legend');
})();
(function(){
  const ax=ts(4,{name:'proton-density-chart',ymin:0,ymax:40,yticks:range(0,40,5),ylabels:['0','5','10','15','20','25','30','35','40'],title:'Proton Number Density',ytitle:'Np(#/cc)'});
  line(ax,npT,npV,'#00f',2,'np-line');
  ax.finish();
})();
(function(){
  const ax=ts(5,{name:'proton-temperature-chart',ymin:0,ymax:0.5,yticks:range(0,0.5,0.1),ylabels:['0.0','0.1','0.2','0.3','0.4','0.5'],title:'Proton Temperature and Te/Tp',ytitle:'Tp(10⁶K)',ytx:55});
  line(ax,tpT,tpV,'#00f',2,'tp-line');
  ax.finish();tsLegend(123,2985,72,[['Tp','#00f']],'tp-legend');
})();
</script>
</body></html>
